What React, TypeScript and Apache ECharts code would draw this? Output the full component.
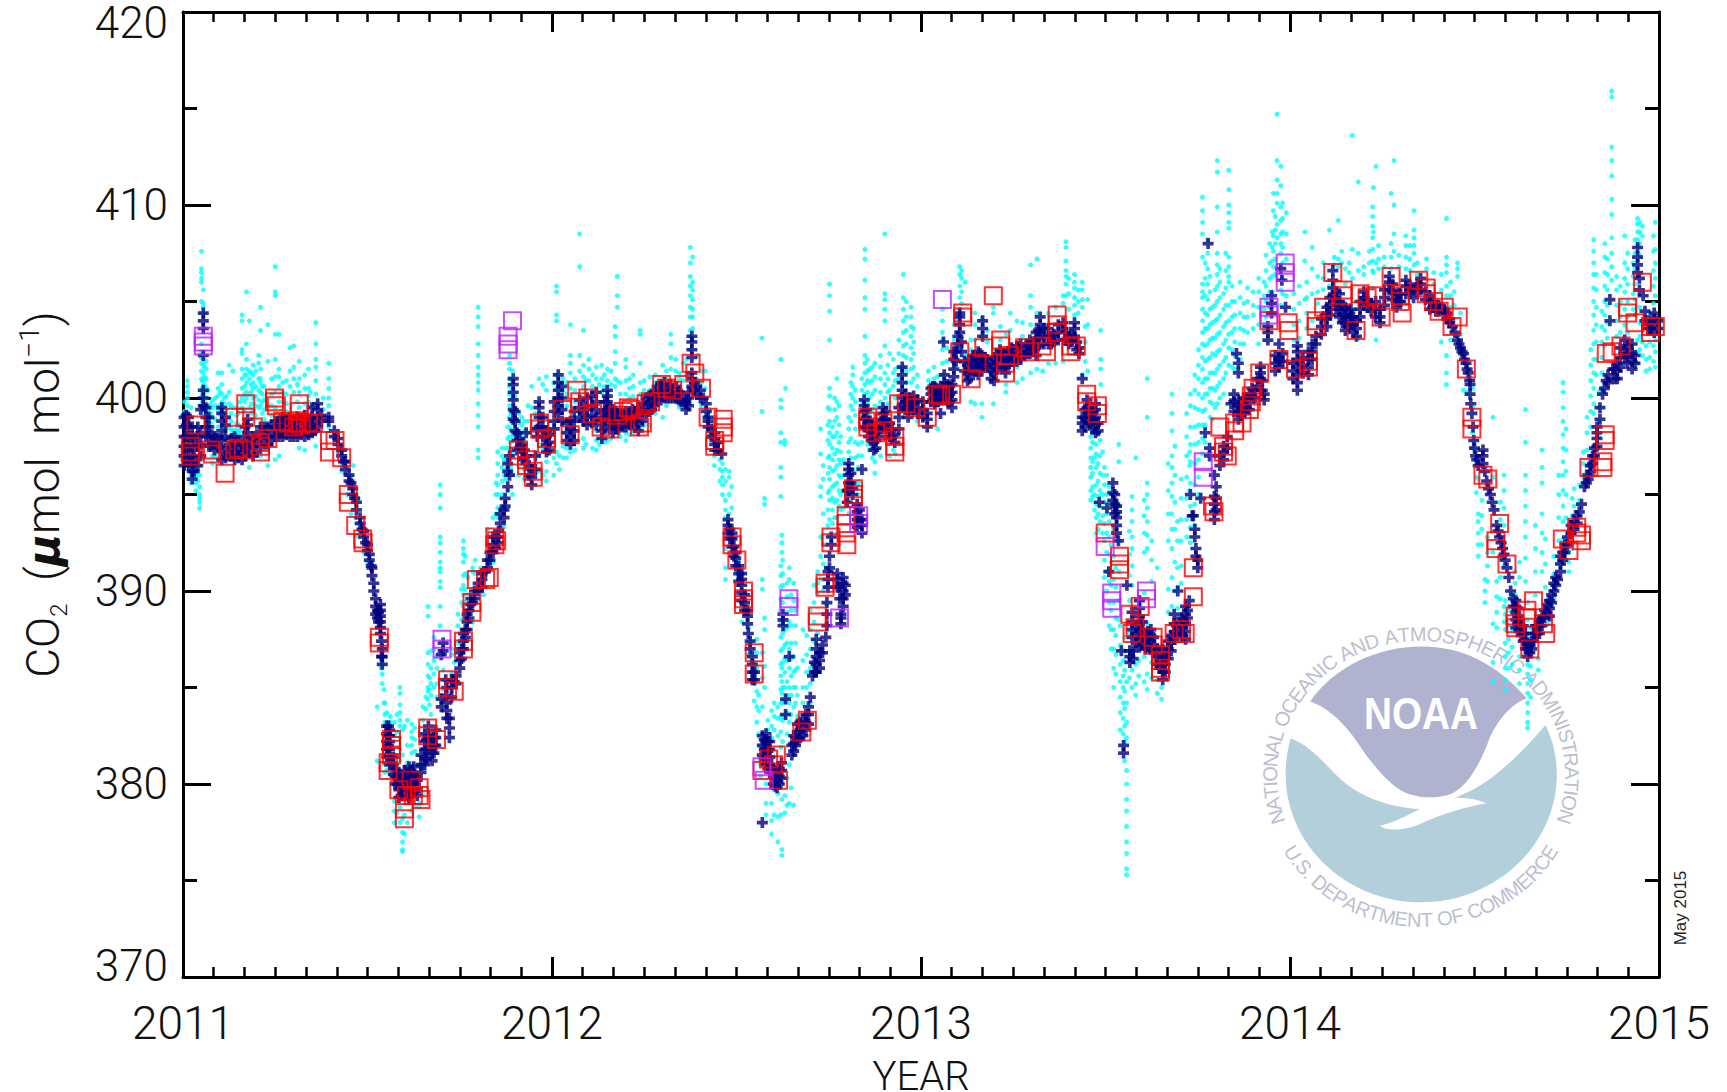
import React, { useEffect, useRef } from "react";
import * as echarts from "echarts";

const yearTicks = [2011, 2012, 2013, 2014, 2015];
const valueTicks = [370, 380, 390, 400, 410, 420];

// Each row: fraction of the year, then the values read at that time.
const cyan2011 = [
  [.004,396.5,397.5,398.5,399.3,399.8],[.012,398,399.2,399.6,400,400.3,400.6,400.9],[.022,395.6,396,396.6,397.2,398,399.5],
  [.035,395.2,395.6,396,396.5,397],[.045,394.3,394.6,394.8,395,395.4,396,396.5,397],
  [.05,401,401.4,401.8,402.1,402.4,402.8,405,406,406.2,406.5,406.7,407.6],[.055,400.6,400.9,401.3,401.7,402,402.4,404.4,404.7,404.9,405.6],
  [.063,399.5,400,400.5,401,401.5,401.9],[.08,396.6,397,399,399.5,399.9],[.095,396.8,398.5,399.4,400.1,400.5,401.3],[.105,399.8,400.2,400.7,401.3],
  [.125,398,398.5,399,399.7,400.3,401.7],[.135,397.5,398.3,399.5,401.4],[.155,397,398,398.3,399.8],[.16,399.5,400,400.5,401,401.5,402.3,402.5,404,404.3],
  [.172,400,400.3,400.8,401.2,401.5,402,402.8,405.5],[.18,396.4,397,399.5,400.2,401,401.4,404],[.19,399.4,400,400.5,400.8,401.2,401.7],
  [.205,399.5,399.9,400.4,401,401.8,402.2],[.21,397,399.6,400.3,400.8,401,401.5,403.5,404.7],[.23,396.5,399.6,401.9,403.8],[.25,396.8,399.5,400.3,401.1,402,403.3,405.3,405.5,406.8],
  [.26,397,399.8,400.6,401.1,401.5,403.3],[.29,400.6,401.4,402.6],[.3,400.3,401,401.6,402.7],[.315,397.4,399.5,400.3,401,401.9],[.33,397.3,399.7,400.5,401.2],
  [.34,399.8,400.1,400.5,401.5],[.36,397.5,399.7,400.2,400.9,401.6,402,402.8,403.9],[.395,398.5,399.6,400,400.5,401,401.8],
  [.42,397.2,397.6],[.445,395,396,396.4],[.455,394,395,396],[.462,395.5,396.5],[.475,392.8,393.5,394.8],[.49,392,393.2],[.5,391.5,392.1],
  [.537,386,386.5,386.9],[.54,385.2,385.7,386.2],[.545,384.2,384.9],[.526,384,381.2],[.547,384.2,383.6,383.2,382.5,381.5,381,380.6],
  [.552,383.7,383.2,382.8,382.4,381.9,381.5,381,380.7],[.562,383.5,383.2,382,381.2,380.9,380.5],[.573,379.9,379.1,378.6,378,382.5,383.2],
  [.588,385,384.7,384.1,383.7,383.3,383,382.4,381.8,381.2,378.8,378],[.595,377.5,377,376.5,376.6,382.8,381.5,378.2],[.6,383,378.4,377.4],
  [.62,383.1,382.7,382.4,382,381.6,381,378.6],[.64,378.8,378.3,379,380.6,381],[.65,384,383.3,380.8,379.5],
  [.664,389.2,388.7,386.8,386.2,385.6,385,384.4,384.8],[.672,386.9,386,385.2,384.6,383.6,382.2],[.68,387.6,387,386.4,385.7,385],[.697,392.5,391.5,391,390.2,389.2,388.2,395.5,395,394.3,392.8,392,391.2,390.5],
  [.705,385.9,385.4,384.9,384.3],[.728,387,386.7,385.7,384.9],[.745,388.8,388.2,387.3,386.5],[.76,392.6,392.2,391.9,391.5,390.8,390.3,389.8,389.2,388.6],
  [.765,391.8,390.9,390.1,389.4,388.4],[.785,389,388.4,391,391.2],[.8,404.7,404.2,403.7,402.8,402.2,401.6,401.2,400.8,400.4,399.7,399.1,398.5,397.3,396.9],
  [.815,389.8,390.4,391],[.825,391,391.6,392,392.4,393.2],[.84,391.5,392.2,393.8],[.848,392,394,395,395.6],[.853,393.8,394.3,395,395.5,396,396.6,397.2],
  [.865,394.3,395,395.7,396.4,397,397.4],[.875,394.6,395.8,396.3,396.8,397.4],[.885,396.2,396.8,397.4,398,399,399.6,400.2,400.6,401,401.5,401.8,402.2],
  [.893,395,396,397.2,398,398.7,399.4,400,400.4,400.9,401.4],[.91,396,397.4,398.2,398.7,399.2],[.925,395.8,396.3,397.8,398.3,398.8],[.945,395.6,396,398.4,399.5,400.6],[.965,396.2,397,397.6,398.2,401],
  [.985,395.7,396.2,396.7,397.2,400.4,401.1],
];
const cyanMore2011 = [
  [.008,397.2,398.2,399],[.018,396.2,397.8,398.7],[.03,395.9,396.3,397.6],[.04,395.7,396.2,396.8],[.052,399.4,399.8,400.2,400.5,400.9],[.058,399.2,399.6,400,400.3,400.7,401.1,401.6],[.068,398.3,398.8,399.4,400.4],
  [.075,397.4,398.7,399.2,399.7],[.088,397,398.9,399.6,400],[.1,396.9,397.6,399.2,399.6,400.3],[.112,398.6,399.2,399.7,400],[.118,397.9,398.4,399.4,400.1],[.13,398.4,398.8,399.2,399.6],[.145,398.1,398.4,398.7,399.1,399.5],
  [.15,397.2,398.2,398.6,399.2],[.167,399.4,399.8,400.2,400.6,401.2],[.185,399.2,399.7,400.3,400.7,401.3],[.197,399.1,399.6,400.1,400.6,401.4],[.215,399.2,399.8,400.2,400.6],[.22,398.9,399.4,399.9,400.6],[.24,399.1,399.6,400.2,401],
  [.27,399.4,399.8,400.3,400.8],[.28,399.3,399.7,400.2,400.9],[.31,399.2,399.8,400.7],[.345,399.6,400.3],[.38,399.4,400],[.43,396.5,396.2],[.468,394.5,393.8],[.56,381.8,382.8,383],[.58,383.6,382.7,379.4,378.5],[.608,383.3,382,381.1,378],
  [.628,382.9,382.3,381.7,378.9],[.658,384.5,383.9,382.8],[.668,385.5,384.9,384.1],[.688,386.6,386,385.2,384.5],[.735,386.3,385.5],[.755,390.1,389.4,388.5,387.8],[.772,390.7,389.8,389],[.792,391.6,390.9,390],[.806,390.6,391.2],[.833,391.4,392.1,392.8],
  [.87,393.3,396,396.8],[.88,395.2,396.7,397.9,398.5],[.888,396.4,397,397.7,398.4,399.2],[.9,398.2,398.9,399.5,400.1],[.918,396.6,398,398.6,399],[.935,395.9,398.2,398.8,399.6],[.955,396.1,398.3,399.2],[.975,396,397.4,398.9,400.7],
];
const cyan2012 = [
  [.012,396.6,397.2,399,399.6,400.5,401.2,404,404.3,405.5,405.8],[.03,396.9,397.5,398.2,400.4,401],[.05,397.2,397.7,400.5,401.3,401.8,402.2,403.8],[.075,401.4,402.2,408.5,406.8],
  [.085,397.4,397.9,400.6,401.1,401.7,403.5],[.1,400.9,401.5,402],[.12,397.3,397.8,398.3,401,401.6],[.135,397.9,400.3,401,401.7],[.15,397.8,398.4,400.9,401.5],
  [.171,403.7,403.2,402.4,401.8,401,400.6],[.177,406.3,405.3,404.7,400.9],[.2,397.8,398.2,400.2,400.9,401.6,402],[.22,398.2,400.1,400.6,401.2],[.239,403.5,403.3,401.8,400.8,400.2,398.4],
  [.265,398.6,400.4,401.1],[.3,399,401,401.7],[.322,403.3,402.8,402.1,401.5,400.9],[.335,399.8,401.4,402],[.355,399.6,400.9,401.8],
  [.375,402.5,403.2,403.5,404.2,404.7,405.3,405.8,406.3,407,407.8],[.381,403,403.6,404.2,404.6,405.1,405.6,406,407.3],[.395,400.1,400.9,402.2],[.415,399,400.5,401.4],
  [.44,396.5,397,399],[.462,396.6,396.2,395.9,395.5,395],[.47,396.3,395.7,394.7,394.2,393.8],[.48,396.2,395.9,395,394,393.4,392.8],[.47,392.2,391.2,390.6],[.495,392.8,392.2],
  [.515,391,390.5,389.2,388.4],[.532,388.8,388.1,387.3,386.7],[.555,387.5,386.8,386,384.8,384,383.2],[.569,403.1,399.3],[.576,394.8,394.5,388.6,388,386.1,385],[.57,390.6,390.1,386.8,385.5,384],
  [.565,382,381.5,381,380.4],[.58,381.5,380.7,380,379,378.4],[.595,383.8,383,382.4,381,380,379,378.1,377.4],[.612,384,383.4,382.5,380.5,379.5,378.3,377],
  [.62,402,399.9,399.5,398.2,397.7,396.4,395.9,394.9,391.3,390.8,390.2,389.6,389,388.4,387.6,386.9,386.2,385.6,384.9,384.2,383.5,382.7,381.9,381,378.4],
  [.623,392.9,392.5,392,386,385.3,384.7,380,379.2,376.3,376.6],[.631,397.8,397.6,388,387.2,386.5,385.8,385,384.3,383.5,379.4,378.5],[.633,400.5],[.643,391.2,390.6,388.4,387,386,385,384.2,383.2,381,379],
  [.655,390.4,389.5,386.6,385.8,385,384,378.9],[.665,386,384.6,383.5],[.68,388,386.4,385,384.2],[.7,389,388,387,386,385.2,384.2],[.72,391,390.4,389.9,387.8,386.8,385.8],
  [.728,398.4,397.1,395.4,394.9,392.8,391.8,390.6],[.743,392.4,391.2,390.2,389.3,388.3],[.752,405.9,405.3,404.5,403,400.5,400.1,399.4,398.8,398.2,397.6,397,396.4,395.8,395.2,394.7,393.7,392.9],
  [.76,398.5,398,397.4,396.8,396.2,395.4,394.8,394.2,393.5],[.772,401,399.8,399,398.2,397.3,396.5,395.6,394.7,393.8,393],[.782,398,397.2,396.6,395.9,395,394.2],
  [.804,397.7,397.2,396.6,399,398.4,394.7,394],[.815,401.6,401.2,400.6,400,399.4,396.3,395.5],[.83,397.6,397,396.4,395.6,395],[.848,407.7,407.2,406.1,405.2,404.6,403.2,402.2,401.8,401.3,400.7,400.2,399.7],
  [.86,401.5,400.8,400,399.2,397.3],[.875,401.8,401.1,400.4,399.6,396.7,396.1],[.902,408.5,405.4,405.1,404.6,404,402.7,401.3,400.7,400],[.915,402.3,400.4,397],
  [.93,401.5,400.9,400,397.1],[.952,406.4,405.2,404.6,404,403.4,402.7,402.2,401.6],[.973,404.7,404.2,403.7,403.2,402.6,402,401.5,400.8],[.99,401.2,400.6,398.8],
];
const cyanMore2012 = [
  [.005,396,396.9,398.4,399.9,400.8],[.02,396.3,397,399.5,400.1,400.7],[.04,396.9,397.4,399.6,400.2,400.8],[.062,397.3,399.8,400.4,401],[.092,397.6,400.4,400.9],[.11,397.4,400.6,401.2],[.128,397.6,400.7],[.142,397.7,400.6,401.2],
  [.16,397.9,400.7,401.4],[.185,398,400.2,400.8],[.21,398.1,400,400.5,401],[.25,398.6,400.4,400.9],[.28,399.2,400.8,401.2],[.31,399.6,401,401.4],[.345,399.5,401,401.3],[.365,399.6,401.2,402],[.405,399.6,400.8,401.4],
  [.428,398.1,399.4],[.455,396.8,396.3,395.7],[.487,395.4,394.3,393.3],[.505,391.5,390.8],[.54,387.4,386.4],[.548,386.3,385.2,384.3],[.56,384.6,383.8,382.6],[.585,383.3,382.8,381.9],[.602,384.2,383.5,382.8,381.4,379.7,378.4],
  [.625,391.6,390.9,390.3,389.4,388.7,387.8,387,386.3,385,384.2,383.3,382.2],[.637,390.4,389.7,388.9,388.1,387.3,386.4,385.3,384.6,383.7,382.6,380.3,378.9],[.648,389.8,389,388.2,387.3,386.5,385.6,384.6,383.6,379.8],[.66,389,388.2,387.3,385.9,385,384.2],
  [.69,387.7,386.7,385.8,385],[.71,390.3,389.4,388.4,387.4,386.3],[.735,396.5,395.8,394,392.4,391.4,390],[.748,399.5,398.6,397.8,396.9,396.1,395.1,394.2,393.4],[.766,400,399.4,398.8,398,397.1,396.3,395.5,394.6,393.8],[.778,399.6,398.6,397.7,396.8,396,395.2,394.4],[.79,396.8,396,395.2,394.3],
  [.81,400.8,400.2,399.6,398.8,397.9,396.9],[.822,400.4,399.8,399.1,398.4,397.7,396.9],[.84,401,400.4,399.8,399.2,397.7,397],[.855,402,401.4,400.9,400.3,399.7,397.6],[.868,401.6,400.9,400.2,399.4,396.9],[.89,402.2,401.6,401,400.3,399.8,397],
  [.91,401.7,401,400.3,399.7],[.925,402,401.3,400.6,397.3],[.94,403,402.3,401.6,401],[.96,405,404.2,403.5,402.8,402.1,401.4,400.8],[.98,403.6,402.9,402.3,401.6,401],
];
const cyan2013 = [
  [.02,401.4,400.9],[.058,404.6,404,403.4,403,402.5,401.8,401.2],[.045,398.4,401.1],[.09,401.6,402.2,403,403.8],[.105,406.4,405.8,405.2,404.6,406.8],[.11,406.6,406.2,405.5,404.9],[.12,402.2,401.9,406],[.146,404.4,403.8,403,402.4,399.7],
  [.165,399,399.7,404.1,403.2],[.196,404.7,404.4,399.7],[.23,400.3,400.7,403.3],[.242,404.4,403.5],[.26,400.8,401.6,404],[.297,406.9,405.3,404.7,403.8,401.3],[.314,407.2,404.4,401.5],[.345,401.8,403.8,404.4],
  [.385,404.9,405.3,401.9],[.393,408.1,407.8,407.1,406.6,406.3,405.9,405.3],[.416,406.4,406,405.7,405.2,404.8,404.3],[.437,406,405.6,405.1,404.7,401.2],[.452,405.1,403.8,401.4],[.487,403.5,402,401.5,400.7],
  [.46,399,398.6,398,397.4,396.9,396.4,395.9,395.2,394.7],[.475,398.2,397.6,397.1,396.4,395.5,394.5,393.8,393],[.485,397.8,397,396.1,395.2,394.4,393.6],[.497,396.4,395.5,394.6,393.5,392.6,391.6,390.7],
  [.51,395.4,394.6,393.6,392.8,391.9,390.5,389.4,388.2],[.536,397.6,396.7,394.4,392.6,391,389.5,388.5],[.522,393.2,391.8,390.6,389.4,388,387,386,385],[.548,386.4,385.6,385,384.2,383.4,382.6,381.8],[.557,380.7,380,379.2,378.6,377.8,377,376.4,375.6,375.3,385.3,384.2,383.2,382.4],
  [.572,394.9,394.2,393.6,392.8,392.2,391.3,390.3,388.6,385.9,385],[.582,396.9,386.2,385.2,384.6],[.613,401,399,395.6,395,394.3,393.6,392.9,392.2,388.3,387.4,385.7,384.9],[.64,386.2,385.4,384.7,391.2],
  [.652,385,384.4],[.68,400.2,399.2,398.3,397,396.4,395.6,394.9,394,393.2,392.2,390.7,389.2,388.3],[.695,393.6,392.6,391.2,390.2,389.1],[.73,400.2,399.6,398.5,397.6,396.7,395.6,394.4,393.3,392.5],[.728,397.2,396.5,395.2],
  [.763,410.4,409.7,409.1,408.5,407.3,405.9,405.5,405.2,404.6,404,403.4,402.8,402.1,401.5,400.8,400,399.3,398.6,397.9,397.1],[.777,408.2,407.5,406.7,405.9,405.1,404.3,403.6,402.8,402,401,400.2],
  [.79,404.7,403.9,403.1,402.3,401.3,400.5,399.7,398.9],[.803,412.3,411.7,409.9,408.6,407.5,406.9,406.4,405.8,405,404.1,403.3,402.4,401.5,400.6,399.7],[.82,405.4,404.6,403.7,402.8,401.9,401,400.2],
  [.834,411.8,410.8,410,409.6,409.1,408.8,407.3,406.8,406.3,406,404.8,404,403.3,402.6,401.7],[.85,405,404.3,403.6,402.9,402.2,401.5],[.875,404.9,404.2,403.5,402.8],[.9,405.5,404.8,404.3,403.6],
  [.93,406,405.3,404.6,403.8],[.945,408,407,406.2,405.5,404.7],[.955,409.7,410.6,408.4,407.6,406.8],[.965,414.7,412.3,411.3,410.6,410.1,409,408.3],[.975,412,411,409.9,409.2,408.5,408,407.5,405.6,404.8],[.99,409.6,408.5,407.2,405.3],
];
const cyanMore2013 = [
  [.035,401,401.6],[.07,401.9,402.6],[.098,402.6,403.4,404.1],[.135,403,402.5,399.8],[.18,402.9,403.5],[.215,403,403.7],[.275,403.2,403.9,401],[.33,403.6,401.4],[.365,404.7,401.8],[.4,406.2,405.4,404.6],[.426,405.6,405,404.4],
  [.445,403.7,402.9,401.9],[.465,398.3,397.7,396.7,396.1,395.4,394.9],[.47,399.4,398.8,396.9,395,394.2],[.48,398.9,396.6,395.7,394.9,394,393.2],[.492,397.2,396,395,393.9,393],[.503,396,395,394,393,392,391,390],[.515,392.4,391.5,390.3,389,388,387],
  [.528,391.2,390.2,388.6,387.7,386.7,385.7],[.54,388.2,387.2,386.2,385.3,384.5,383.7,382.8],[.552,387.6,386.9,385.9,384.8,383.9,383,382.2,381.2],[.565,393.1,391.9,390.8,389.5,387.8,386.5,385.5],[.59,387.6,386.4,385.6],[.605,394.7,393.9,393,392,389.9,386.6,385.3],
  [.625,392.6,391.6,390.5,386.3,385.5],[.67,396.6,395.2,394,392.6,390.1,388.9],[.688,397.5,396,394.6,393.2,391.5,390],[.705,395.8,394.8,393.7,392.6,391.3,390.4],[.72,399.2,398,397,395.9,394.8,393.7,392.8],[.742,401.2,400.4,399.5,398.5,397.6,396.6,395.5,394.5,393.4],
  [.752,402.5,401.7,401,400.2,399.4,398.6,397.7,396.8,395.9,395],[.77,407,406.2,405.3,404.4,403.6,402.7,401.9,401,400.2,399.4,398.6,397.7],[.783,406.3,405.5,404.6,403.8,403,402.1,401.3,400.5,399.8,399],[.797,405.6,404.8,404,403.1,402.2,401.3,400.4,399.5],
  [.81,406.7,406,405.2,404.3,403.4,402.5,401.7,400.8,400],[.826,407.5,406.6,405.7,404.8,403.9,403,402.1,401.3],[.843,405.8,405,404.2,403.4,402.5,401.6],[.865,406,405.2,404.4,403.6,402.8,402],[.885,405.7,405,404.2,403.4],
  [.915,406.2,405.5,404.7,403.8,402.8],[.935,407.4,406.6,405.8,405,404.2],[.952,408.6,407.8,407.1,406.3,405.5],[.96,409.4,408.7,408,407.2,406.4],[.98,410.1,409.3,408.6,407.8,407,406.2,405.4],
];
const cyan2014 = [
  [.04,408.6,407.1,405.1],[.06,407.8,406.7,405.4,404],[.107,408.7,405.8,404.2],[.131,409.2,407.2,406.8],[.15,406.7,405.9,404.4],[.169,413.6,407.7,406.2],[.185,411.2,407.5,406.6,403.1],
  [.224,409.9,409.4,408.9,408.3,407.7,407.1,406.6,405.7],[.233,412,407,403],[.226,410.9,408.6,406.5],[.274,410.6,408,407.3,406.7],[.282,412.3,410,408.5,407.6],[.314,408.4,407.9,407.3,406.7],
  [.336,409.7,408.7,408.3,407.9,407.5,406.9],[.37,407.2,406.7],[.424,409.3,407.3,406.9,406.5,405.8,405.3,404.5,402.2,401.3,400.7],[.454,407,406.7,406.3,403.2],[.47,401.8,400.4],
  [.495,400.5,399.5,398.2,397.4],[.51,394,393.6,393,392.4,391.8,395.8],[.528,390.6,390,389.4],[.55,388.3,386.3,385.3,399,395.9,392],[.58,396,395.2,394.3,393.4,392.5,391.3,389.2,388.4],
  [.583,389.5,388.8,388,387.3,386.6,386,385.4,384.9],[.61,391,390.4,389.8],[.638,399.4,397.7,396,395.2,394.4,393.6,392.8,391.7,390.5],[.644,389.4,388.5,387.6,386.2,385.7,385.2,384.7,384.2,383.7,383.2,382.9],
  [.683,397.3,396.4,395.6,394,393,392,391],[.7,389.6,388.3],[.74,400.8,400.3,399.5,398.8,398.1,397.4,396.7,396,395.2,394.4,393.6,392.7],[.755,392,391.5,391],[.77,395.3,394.4,393.4],
  [.795,397.2,396.6,396],[.823,408.2,407.6,407,406.4,405.7,405,404.3,403.5,402.8,402,401.3,400.5,399.7,399.2],[.837,400.3,399.5,398.8,398,397.4],[.853,408,407.3,406.5,405.8,405,404.3,403.5,402.7],[.872,415.9,415.6,413,412.3,411.5,410.3,409.5,408.3,407.5,406.8,406.1],
  [.885,406.3,405.6,404.8,404,403.2],[.907,408.4,407,406.2,405.5,404.6,403.8],[.93,407,406.3,405.4,404.6],[.942,409.3,409,408.6,408.2,407.9,403,402.4,401.8],[.965,402.7,402,401.4],[.99,409.1,407.7,407,406.2,405.3,403,402.4,401.6],
];
const cyanMore2014 = [
  [.01,405.4,404.6,403.8,403],[.025,405.8,404.9,404,403.1],[.045,406,405.2,404.4,403.6],[.075,406.3,405.5,404.9],[.09,407,406.2,405.6],[.12,407.3,406.9],[.14,407.6,407],[.16,407,406.5],[.2,406.8,406.4],[.215,407.6,407],[.24,407.9,407.2,406.7],
  [.255,407.3,406.8],[.295,407.4,406.8],[.325,407.9,407.2,406.6],[.345,407,406.4],[.39,406.5,405.9],[.41,406.4,405.6,402.9],[.435,406,405.3,404.7,403],[.445,405.5,404.8],[.462,404.4,403.3,402.5],[.48,401,400.3],[.505,396.7,395.9,395.1],
  [.52,394.7,393.9,393.2,392.4],[.535,392.8,392,391.3,390.5],[.56,390.5,389.7,388.9,388.1],[.57,394.6,393.7,392.8,391.7,390.7,389.6],[.592,389,388.2,387.5,386.8,386],[.602,389.8,388.9,388,387.1,386.2],[.622,391.5,390.7,386.6,385.9,385.2],[.652,388.1,386.9,386.1,385.4,384.5],
  [.665,393.4,392.2,391,389.8,388.9],[.673,386.5,385.9],[.692,392.7,391.4,390.2,389],[.715,391.8,390.9,390.2,389.6],[.728,396,395,393.8,392.6,391.5],[.748,398.4,397.3,396.2,395,393.8,392.7],[.765,394.8,393.9,393,392.2],[.785,395.5,394.7,393.8],
  [.805,399,398.2,397.3,396.5,395.7],[.815,402.5,401.7,400.9,400.1,399.3,398.5],[.83,406.4,405.6,404.7,403.8,402.9,402,401.2],[.845,404.5,403.7,402.9,402.1,401.3,400.5],[.86,407.2,406.4,405.6,404.8,403.9,403.1],[.895,405.8,405,404.2,403.4,402.6],[.915,407.5,406.7,405.9,405,404.2,403.4],
  [.935,408.2,407.5,406.7,405.9,405.1,404.3],[.948,409.1,408.6,408,407.4,404.7,403.9,403.2,402.5],[.955,408.9,408.4,402.9,402.2],[.975,404.4,403.6,402.9,402.1,401.5],[.985,408.4,407.6,406.6,405.8,404.9,402.7,401.9],
];

const navy2011 = [
  [.003,396.5,397,397.5,398,398.5,399],[.015,396.5,397,397.5,398,398.5,399],[.025,395.8,396.2,396.6,397,397.5,398,398.5],[.04,396.5,397.5,398,398.5],
  [.055,399.6,400,400.4,402.2,403.6,404,404.4],[.07,397.5,398,398.5,399],[.085,397.3,397.6,398],[.105,396.8,397.2,397.8,398.3,398.8,399.2,399.5],[.125,397,397.5],
  [.14,396.8,397.2,397.6,398],[.16,396.8,397.2,397.6],[.175,397.4,397.8,398.2,398.6,398.9],[.19,397,397.5,398],[.21,397.5,398,398.5],[.23,397.6,398,398.5],[.25,398,398.4,398.8],
  [.27,398,398.4,398.8,399],[.29,398,398.4,398.8,399],[.31,398,398.3,398.7,399],[.33,398,398.4,398.8,399.1],[.35,398.2,398.6,399,399.5],[.365,398.5,399,399.4,399.7],[.395,398.8,399],
  [.42,397.6,397.9],[.43,397,397.3],[.44,396.3,396.7],[.45,395.7,396],[.46,395,395.3],[.47,394.2,394.6],[.48,393.5,393.8],[.49,392.8,393.1],[.5,392.1,392.4],[.505,391.6,391.9],
  [.512,390.8,391.2],[.517,390,390.4],[.522,388.8,389.2,389.6],[.535,387.8,388.1,388.4,388.7,389,389.3],[.54,387,386.6,386.2],
  [.552,381.4,381.8,382.2,382.6,383],[.56,381,381.4,381.8,382.2,382.5,382.8],[.575,380,380.4,380.8],[.585,379.3,379.7,380.1,380.5],[.6,379.5,379.9,380.3,380.7],[.612,379.3,379.7,380.1,380.5,380.9],
  [.625,379.7,380.1,380.5,380.9],[.635,379.4,379.8,380.2],[.655,381,381.4,381.8,382.2,382.6],[.665,382.5,383],[.675,381.2,381.6,382,382.4],[.685,382,382.4,382.8],[.7,384,384.4,386.7],
  [.705,386.9,387.3],[.715,383.4,383.8,384.2,385],[.722,382.4,382.9,383.4],[.728,385,385.4,384.5],[.74,385.2,385.6],[.75,386.8,386.4,386],[.76,387,387.4,387.8],[.77,388,388.4,388.8],[.78,389.3,389.6],
  [.79,389.6,390],[.81,390.2,390.6,390.9],[.825,391.2,391.6],[.84,392,392.4,392.8],[.855,392.5,392.8,393.1],[.86,393.5,394],[.873,394.4,394.8],[.88,395.4,396.2,396.6],[.895,399.4,399.9,400.3,400.7,401,398.9],
  [.905,397.8,398.2,397.3],[.92,396.8,397.2,397.6],[.93,398.2,397],[.945,395.5,395.9,396.3],[.965,398.5,399,399.5,399.8],[.985,397.2,397.6,398,398.3],
];
const navyMore2011 = [
  [.009,396.8,397.4,398,398.6,399.1],[.03,396.2,396.8,397.3,397.9],[.048,397,397.6,398.2,399.4],[.062,399,399.5,398,398.5],[.078,397.6,398.1],[.095,397.5,397.9],[.115,396.9,397.4,398,398.6,399],[.132,397,397.4,397.9],[.15,396.9,397.3,397.8],
  [.168,397,397.5,398,398.5],[.183,397.2,397.7],[.2,397.2,397.7,398.1],[.22,397.6,398.1,398.5],[.24,397.8,398.2,398.6],[.26,398,398.4,398.8],[.28,398.1,398.5,398.9],[.3,398,398.4,398.8],[.32,398.1,398.5,398.9],[.34,398.1,398.5,398.9],[.358,398.3,398.7],
  [.375,398.8,399.1],[.41,398,398.3],[.435,396.7],[.455,395.6],[.465,394.8],[.485,393.2],[.495,392.5],[.51,391.3],[.527,389,388.6],[.53,388.4,388.9],[.538,386.6,387.4],[.557,381.5,382,382.5,383],[.57,380.5,381,381.4],[.58,380,380.4],
  [.592,379.4,379.8,380.3],[.606,379.4,379.8,380.2,380.6],[.618,379.5,379.9,380.3,380.7],[.63,379.6,380,380.4],[.645,380.6,381,381.5],[.66,381.3,381.8,382.3],[.68,381.6,382,382.4],[.712,384.6,385.4],[.735,385.3],[.755,386.5,387],[.765,387.6,388],
  [.775,388.6,389],[.785,389.4],[.8,390,390.4],[.82,391],[.832,391.6,392],[.848,392.2,392.8],[.87,393.8,394.2],[.885,396,397],[.9,398.3,398.8,399.3],[.912,397.4,397.9],[.925,396.9,397.3],[.938,396,396.5],[.955,396.3,397],[.96,398,398.4],[.975,398,398.5,399],[.992,397.3,397.7,398.1],
];
const navy2012 = [
  [.017,399.2,399.6,400,400.4,400.8,401.2],[.05,397.6,398,398.4,398.8],[.075,399,399.5,399.9],[.095,398.6,399,399.4,400],[.12,398.6,399,399.4,399.8,400.3],[.135,397.9,398.3,398.8,399.2],[.15,399,399.4,399.8,400.1,400.4],
  [.165,398.2,398.6,399,399.4],[.18,398.4,398.8,399.2],[.2,398.5,398.9,399.3],[.218,398.6,399,399.4],[.234,398.3,398.7,399.1,399.5],[.255,399.2,399.6,400],[.27,399.4,399.8,400.2],[.285,399.9,400.2,400.6],
  [.305,400,400.4,400.8],[.32,400,400.3,400.7],[.337,400,400.3,400.6],[.35,399.8,400.2],[.363,399.4,399.7,399.9],[.379,400.6,401,401.3,402.1,402.5,402.9,403.2],[.392,400.2,400.6],[.41,400],[.423,398.5,398.8,399],
  [.441,397.3,397.6,397.9,398.2],[.46,397.1],[.477,393,393.4,393.7],[.488,392.3,392.7,393],[.498,391.3,391.7,392],[.514,389.5,389.9,390.3,390.6,390.9],[.53,388.3,388.7,389],[.532,387.8],[.543,385.4,385.8,386.2,386.6],
  [.57,382.5,382,381.5],[.58,381,381.4,381.8,382.2,382.6],[.59,381,381.4,381.8,382.2],[.57,378],[.6,380,380.4,380.8],[.61,379.8,380.2,380.6],[.622,380.3,380.7,381.1],[.626,388.2,388.5,388.8],[.633,383.6,384.4],[.643,386.6],
  [.655,381.7,382.1,382.5],[.665,382.3,382.7,383.1],[.68,382.5,382.9,383.3],[.695,383.1,383.6,384],[.7,384.5],[.706,385.6],[.716,385.8,386.2,386.6,387,387.5],[.725,386,386.4,386.8],[.742,387.6],[.748,390.2,390.6,391],
  [.757,392.4,392.8],[.773,390.2,390.6,390.9],[.783,388.3,388.6,388.8],[.789,389.2,389.6,390,390.4,390.7],[.804,395.2,395.6,396,396.3,396.6],[.815,395,395.3],[.827,393.3,393.7,394.1,394.5],[.84,393,393.4,393.7,396.3],
  [.846,398.5,398.9,399.3,399.6,399.9],[.858,398,398.4,398.8],[.872,397.3,397.7,398.1,398.5],[.885,398,398.4],[.897,398.5,398.9,399.2,399.5],[.915,398,398.4,398.7],[.929,397.7,398.1],[.949,399.6,400,400.4,400.8,401.2,401.6],
  [.965,399,399.4,399.8],[.98,399.4,399.8,400.1],[.991,399.2,399.5,399.9],
];
const navyMore2012 = [
  [.006,398.4,398.8,399.3,399.8],[.027,398.8,399.4,400,400.6],[.04,397.8,398.2,398.7],[.06,397.8,398.3,398.8,399.3],[.085,398.8,399.2,399.7],[.108,398.7,399.1,399.6,400.1],[.143,398.4,398.9,399.3,399.8],[.158,398.6,399,399.5],
  [.173,398.4,398.9,399.3],[.19,398.5,398.9,399.2],[.21,398.6,399,399.3],[.225,398.5,398.9,399.3],[.245,398.8,399.3,399.7],[.263,399.3,399.7,400.1],[.278,399.6,400,400.3],[.295,399.9,400.3,400.7],[.313,400,400.4],[.328,400,400.3],[.344,399.9,400.3],[.37,399.6,400,400.3],
  [.386,400.4,400.8],[.402,400,400.4],[.418,399.3,399.7],[.432,398,398.4],[.45,397.3,397.7],[.482,392.7,393.2],[.493,391.8,392.3],[.506,390.5,390.9,391.3],[.522,389,389.4,389.8],[.537,387,387.4],[.549,385.4,385.8],
  [.575,381.3,381.8,382.3],[.585,380.8,381.2,381.7,382.2],[.605,379.9,380.3,380.7],[.616,380,380.4,380.8],[.65,381.5,382],[.66,382,382.4],[.672,382.4,382.8,383.2],[.688,382.8,383.2,383.6],[.711,385.8,386.3],[.733,386.8,387.2],[.745,388.2,388.8,389.4],
  [.752,391.2,391.8],[.78,389.6,390.2],[.795,389.8,390.3],[.8,394.6,395.2],[.81,395.6,396.1],[.833,393.7,394.2],[.852,398.5,399,399.4],[.865,397.8,398.2,398.6],[.878,397.4,397.8],[.892,398.4,398.8],[.905,398.4,398.9,399.3],[.922,398,398.4],[.94,398.4,399,399.5],[.957,399.4,399.8,400.2],[.972,399.4,399.7,400],
];
const navy2013 = [
  [.017,398.5,398.9,399.2],[.027,399.8,400.2,400.5],[.037,399.7,400,400.3,400.6],[.047,399.8,400.1,400.4],[.053,399.2],[.061,402.9],[.063,400,400.4,400.8,401.2],[.073,399.8,400.1,400.4,400.7],[.084,399.5,399.9,400.3,400.7],
  [.089,401.1,401.5,402,402.4],[.1,402.8,403.2],[.105,403.4,403.8,404.2,404.4],[.126,400.9,401.3,401.7],[.14,401.4,401.8,402.2],[.155,401.2,401.6,402,402.4],[.167,401.6,402,403.2,403.6,404],[.18,401.6,402],
  [.198,400.9,401.3,401.7,402.1],[.214,402.2,402.5],[.229,401.3,401.6,402,402.3],[.245,401.9,402.3,402.6],[.26,401.9,402.3,402.7],[.28,402.2,402.6],[.295,402.3,402.7,403],[.312,402.2,402.6,403,403.4],[.323,403.4,403.8,404.2],
  [.345,402.8,403.2,403.6],[.36,402.9,403.3],[.385,403.6,403.9],[.4,402.8,403.2],[.416,403.2,403.6,403.9],[.428,402.3,402.6],[.437,401,398.3,398.7,399],[.45,399.5,399.9],[.46,398.7,399,399.3],[.473,398.2,398.6,399,399.4,399.7],
  [.483,394.6],[.504,394.3],[.509,391],[.52,394.7,395.1,395.6],[.53,393,393.4,393.8,394.1,394.4],[.535,392.6],[.543,386.9],[.549,382,381.6],[.558,390.3],[.566,386.3,386.6,386.9],[.572,387.6,388,388.4,388.9],
  [.592,387.1,387.5,387.9,388.3,388.7,389.1,389.5],[.608,387,387.4,387.8],[.623,387,387.4,387.7,388],[.64,386.2,386.6,387],[.655,385.4,385.8,386.2,386.6,387],[.67,386.5,387,387.4],[.686,387.5,387.9,388.3,388.8],[.696,390],
  [.705,387.8,388.2,388.6],[.717,387.5,387.9,388.3,388.8,389.2],[.727,389.5],[.73,395],[.735,393.9],[.738,393.9],[.75,391.2,391.6],[.77,398.2],[.778,408],[.795,393.7,394.1,394.5,394.9,396],
  [.82,396.8,397.2,397.5],[.84,399.7],[.855,402.3],[.86,401.3,401.8,398.9,399.3,399.6,399.9],[.875,399.2,399.6,400],[.89,399.4,399.8,400.2],[.905,400,400.4],[.92,401,401.3,401.6],[.93,399.9,400.2],[.94,403,403.4,403.7],
  [.95,404.4,404.9,405.3],[.97,401.6,401.9,402.1,402.8],[.975,406.7],[.978,406.1],[.988,404.7],
];
const navyMore2013 = [
  [.005,399,399.4,399.8],[.032,399.9,400.3,400.6],[.042,399.8,400.2,400.5],[.057,399.9,400.2,400.6],[.068,399.9,400.3,400.6],[.078,399.8,400.2,400.6],[.095,401.9,402.4],[.11,402.4,402.9],[.118,401.4,401.9],[.132,401,401.5,402],[.148,401.4,401.8,402.2],[.16,401.4,401.9,402.3],[.174,401.7,402.1],
  [.19,401,401.4,401.8],[.205,401.5,401.9,402.2],[.222,401.6,402,402.3],[.237,401.7,402.1,402.4],[.252,402,402.4],[.27,402,402.4,402.8],[.288,402.3,402.7],[.303,402.5,402.9],[.318,402.7,403.1,403.5],[.333,402.8,403.2,403.6],[.353,402.8,403.2],[.372,403,403.4,403.8],[.392,403,403.4],[.408,402.9,403.3],[.422,402.5,402.9],
  [.444,398.5,399,399.4],[.455,398.8,399.2],[.467,398.4,398.9,399.3],[.48,398.3,398.7],[.525,394,394.5,395],[.575,386.5,386.9],[.583,387.3,387.7,388.1],[.6,387.2,387.6,388,388.4],[.615,387.1,387.5,387.9],[.63,386.8,387.2,387.6],[.647,386,386.4,386.8],[.662,385.8,386.2,386.6],[.678,386.9,387.3,387.7],[.692,387.8,388.2],
  [.71,387.7,388.1,388.5],[.722,388.6,389],[.742,392.8,393.2],[.745,391.8,392.2],[.758,394.8],[.782,397,397.4],[.8,394.2,394.8,395.4],[.81,396.5,397],[.83,397.4,398],[.848,399.3,399.8,400.2],[.868,399.1,399.5],[.882,399.5,400],[.897,400.1,400.5],[.912,400.6,401],[.925,400.4,400.9],[.96,401.4,401.8,402.2],[.98,401.9,402.3],
];
const navy2014 = [
  [.02,400.4,400.8,401.2,401.6,402,402.4,402.7],[.05,401.2,401.6,402,402.4],[.07,402.8,403.2],[.1,403.7,404.1,404.4,404.7],[.116,405.3,405.7,406.1,406.6],[.134,404.2,404.6,405,405.4],[.15,403.5,403.9,404.3,404.7],
  [.165,403.8,404.2,404.6],[.18,403.2,403.6,404],[.2,404.8,405.2,405.5],[.22,404.5,404.9],[.244,403.9,404.2,404.6],[.269,405.6,406,406.3],[.289,404.7,405.1,405.4],[.3,405,405.4],[.314,405.4,405.8,406.1],[.335,405.2,405.6],
  [.354,405.6,405.9,406.2],[.379,404.6,405,405.3],[.395,404.5,404.8],[.41,404.7],[.425,404.1,404.4],[.44,403.7],[.454,403],[.462,402.6],[.47,402.3],[.477,401.8],[.483,401.3],[.488,400.2,400.7],[.49,399.7],[.493,399.2],
  [.496,398.5],[.498,397.8],[.503,397],[.51,396.5],[.523,396.6,397,397.3],[.533,395.7],[.543,395],[.553,394.2],[.56,393.4],[.568,392.8],[.576,392.2],[.583,391.6],[.593,390.7],[.598,390],[.612,388.1,388.5,388.9,389.2,389.5],
  [.62,388,388.4],[.632,387.4,387.8,388.2],[.644,386.6,387,387.3],[.655,387,387.4],[.665,387.8,388.2],[.676,387.8,388.2,388.5],[.69,388.6,389],[.703,388.7,389.1,389.5],[.715,390,390.4],[.725,390.6],[.733,391,391.4,391.8],
  [.745,392,392.4],[.762,393,393.4],[.778,393.5,393.9],[.79,394.5],[.798,395.4],[.808,395.8,396],[.82,396.6,397],[.832,397.5,397.9,398.2,398.5],[.847,400.2],[.857,400.9],[.867,405.1,404],[.875,401.5],[.887,401,401.4,401.8],
  [.907,402.1,402.5,403],[.927,401.5,401.9,402.3,402.8],[.942,406.5,406.9,407.3,407.8],[.957,405.3],[.97,403.6,404],[.987,403.4,403.8,404.1,404.4],[.997,403.6,404],
];
const navyMore2014 = [
  [.008,401,401.4,401.8],[.035,401.3,401.7,402.1],[.06,402,402.4,402.8],[.085,403.3,403.7,404.1],[.108,404.3,404.8,405.2],[.125,404.6,405,405.5],[.142,403.9,404.3,404.8],[.158,403.7,404.1,404.5],[.172,403.4,403.8,404.2],[.19,404.2,404.6,405],
  [.21,404.7,405.1],[.232,404.2,404.6,405],[.256,404.8,405.2,405.6],[.278,405.1,405.5,405.9],[.296,405,405.4],[.325,405.4,405.8],[.345,405.5,405.9],[.367,405.1,405.5],[.387,404.7,405],[.403,404.5,404.8],[.418,404.4,404.6],[.433,403.9,404.1],[.447,403.4],[.458,402.8],
  [.466,402.4],[.473,402],[.48,401.5],[.487,400.9],[.5,397.4],[.506,396.8],[.528,396.2],[.538,395.3],[.548,394.6],[.564,393.1],[.572,392.5],[.58,391.9],[.588,391.2],[.605,389.2,389.6],[.616,388.3,388.7,389.1],[.626,387.7,388.1],[.638,387,387.4,387.8],[.65,386.8,387.2],
  [.66,387.4,387.8],[.67,387.8,388.2],[.683,388.2,388.6],[.697,388.9,389.3],[.709,389.4,389.8],[.72,390.3,390.7],[.739,391.6,392],[.752,392.4,392.8],[.77,393.2,393.6],[.784,394.1],[.803,395.6],[.814,396.2,396.5],[.825,397,397.4],[.84,398.9,399.5],[.852,400.5],[.862,400.8,401.2],
  [.88,401,401.5],[.895,401.6,402.1,402.6],[.915,401.8,402.3,402.7],[.935,401.8,402.2],[.947,405.6,406.2],[.962,404,404.5],[.978,403.6,404],
];

// Each pair: fraction of the year, value.
const red2011 = [
  [.035,398.6],[.02,397.2],[.021,397],[.075,397.3],[.08,397.1],[.114,396.1],[.14,399],[.17,399.7],[.17,399],[.19,398.5],[.14,397.3],[.15,397.4],[.163,397.3],[.21,397.2],[.21,397.7],[.23,397.9],[.248,400],[.248,399.8],[.27,398.8],[.285,398.7],
  [.315,399.7],[.315,399.3],[.31,398.7],[.34,398.7],[.353,398.7],[.397,397.8],[.397,397.2],[.412,397.8],[.43,396.9],[.448,395],[.448,394.6],[.468,393.4],[.487,392.7],[.488,392.5],[.532,387.6],[.532,387.3],[.565,382.3],[.565,381.8],[.556,381.1],[.556,380.7],
  [.585,379.7],[.6,378.2],[.6,378.7],[.618,380.2],[.64,379.4],[.64,379.8],[.624,379.4],[.663,382.9],[.663,382.5],[.687,382.3],[.717,385.4],[.717,385],[.735,384.8],[.76,387.4],[.76,387],[.783,388.9],[.783,389.4],[.795,390.6],[.82,390.6],[.83,390.7],
  [.845,392.8],[.845,392.4],[.85,392.6],[.909,397.3],[.931,396.8],[.949,396.2],[.966,398.7],[.967,398.4],[.985,397.9],
  [.02,397.5],[.21,397.5],[.253,399.6],[.3,398.5],[.32,398.6],[.565,382],[.565,381.5],[.605,379.4],[.645,379.2],[.909,397],[.931,396.5],[.949,395.9],[.985,397.6],
];
const red2012 = [
  [.028,399.4],[.049,398.1],[.067,400.4],[.075,399.8],[.097,400],[.11,399.2],[.133,398.5],[.157,398.4],[.178,399.1],[.193,399.3],[.214,399.4],[.237,398.5],[.255,399.7],[.267,399.8],[.297,400.7],[.31,400.5],[.327,400.4],[.357,400.7],
  [.377,401.8],[.387,401.3],[.405,400.5],[.423,399],[.464,398.9],[.464,398.2],[.441,397.8],[.441,397.5],[.488,392.8],[.488,392.4],[.501,391.6],[.519,390],[.519,389.6],[.548,386.8],[.548,385.7],[.587,381.3],[.608,381.5],[.569,380.7],[.614,380.2],
  [.6,381],[.677,382.7],[.692,383.3],[.719,388.7],[.719,388.4],[.74,390.4],[.74,390.2],[.756,392.8],[.756,392.5],[.797,393.9],[.799,392.4],[.817,395.3],[.817,394.8],[.856,399],[.856,398.5],[.877,398.2],[.897,398.7],[.897,398.3],[.929,398],[.929,397.5],
  [.939,399.7],[.96,399.7],[.986,399.5],
  [.464,398.5],[.519,389.3],[.797,393.5],[.797,393],[.817,395],[.856,398.8],[.929,397.2],[.207,399.5],[.245,398.7],
];
const red2013 = [
  [.017,399],[.045,400.2],[.053,400.1],[.083,400.2],[.113,404.4],[.113,404.2],[.105,402.4],[.136,401],[.152,401.8],[.17,402.6],[.196,405.3],[.216,403],[.216,402.7],[.229,401.8],[.229,401.3],[.24,402.2],[.281,402.6],[.295,402.4],[.328,402.7],[.34,402.4],
  [.369,404.3],[.369,403.4],[.406,402.7],[.406,402.4],[.421,402.7],[.449,400.2],[.449,399.8],[.478,399.6],[.478,399.2],[.499,393],[.538,391.8],[.538,391.4],[.594,389.2],[.566,388.8],[.572,387.8],[.58,388.1],[.629,387.6],[.629,387.2],[.649,386.4],[.649,386],
  [.686,387.8],[.706,388],[.716,387.8],[.738,391.2],[.738,389.7],[.794,394.1],[.79,394.4],[.81,398.5],[.82,397.5],[.83,397],[.85,398.7],[.87,398.7],[.89,399.4],[.895,400.1],[.9,400.5],[.918,401.3],[.943,404],[.97,402],[.995,403.9],[.997,403.5],
  [.538,391.1],[.649,386.7],[.649,385.8],[.369,403.8],[.82,397.2],[.85,398.3],[.895,399.8],
];
const red2014 = [
  [.015,401.5],[.05,401.9],[.071,404],[.091,404.7],[.116,406.5],[.144,405.6],[.19,405.4],[.179,403.5],[.209,405.2],[.231,405.3],[.247,404.2],[.274,406.3],[.299,405.3],[.304,404.4],[.349,406.1],[.369,405.7],[.389,405],[.404,404.5],[.418,404.7],[.439,403.7],
  [.456,404.2],[.478,401.5],[.493,399],[.493,398.4],[.523,396],[.536,395.8],[.568,393.5],[.558,392.6],[.558,392.2],[.588,391.4],[.61,388.7],[.612,388.1],[.642,389],[.66,389.5],[.65,387],[.693,387.8],[.687,388.3],[.738,392.7],[.756,392.1],
  [.777,393.3],[.79,392.9],[.81,396.4],[.848,396.7],[.854,398.1],[.857,402.3],[.873,402.4],[.897,402.7],[.915,404.7],[.935,403.9],[.955,406],[.977,403.7],[.99,403.7],
  [.05,401.6],[.071,403.7],[.144,405.3],[.299,405],[.369,405.4],[.61,388.3],[.642,388.6],[.777,393],[.79,392.6],[.848,396.4],[.854,397.8],[.977,403.4],[.915,404.4],
];
const purple2011 = [[.055,403.2],[.055,402.9],[.055,402.7],[.702,387.5],[.702,387],[.893,404],[.881,403.2],[.881,402.8],[.881,402.5]];
const purple2012 = [[.569,380.9],[.575,380.2],[.642,389.6],[.642,389.2],[.779,388.6],[.831,393.9],[.831,393.5]];
const purple2013 = [[.058,405.1],[.499,392.3],[.517,389.9],[.517,389.5],[.517,389.1],[.611,390],[.611,389.6],[.765,396.7],[.765,395.9],[.943,404.7],[.943,404.3],[.987,407],[.987,406.5],[.987,406]];

const logoTop = "M328 305 C370 320 420 355 470 430 C520 505 570 560 610 578 C650 596 720 600 760 575 C800 550 835 490 860 420 C880 370 920 315 972 295 C880 190 780 140 658 140 C530 140 400 200 328 305 Z";
const logoBottom = "M270 415 C330 440 360 480 410 530 C470 590 560 622 655 628 C620 645 580 668 535 678 C550 692 600 695 650 675 C720 640 790 622 852 610 C830 598 790 595 760 592 C850 565 950 470 1028 375 C1050 420 1062 470 1062 524 C1062 735 880 908 658 908 C436 908 255 735 255 524 C255 485 260 450 270 415 Z";
echarts.graphic.registerShape("noaaTop", echarts.graphic.extendPath(logoTop, {}));
echarts.graphic.registerShape("noaaBottom", echarts.graphic.extendPath(logoBottom, {}));

const plusSymbol = "path://M3 0h3v3h3v3h-3v3h-3v-3h-3v-3h3z";
const expand = (year: number, rows: number[][]) =>
  rows.flatMap(([t, ...vs]) => vs.map((v) => [year + t, v]));
const pairs = (year: number, rows: number[][]) => rows.map(([t, v]) => [year + t, v]);

function arcChars(text: string, cx: number, cy: number, rx: number, ry: number, from: number, to: number, lower: boolean) {
  const ctx = document.createElement("canvas").getContext("2d")!;
  ctx.font = "20px 'Liberation Sans'";
  const widths = [...text].map((c) => ctx.measureText(c).width);
  const total = widths.reduce((a, b) => a + b, 0);
  let run = 0;
  return [...text].map((c, i) => {
    const f = (run + widths[i] / 2) / total;
    run += widths[i];
    const a = ((from + (to - from) * f) * Math.PI) / 180;
    const x = cx + rx * Math.sin(a);
    const y = lower ? cy + ry * Math.cos(a) : cy - ry * Math.cos(a);
    return {
      type: "text", x, y, rotation: lower ? a : -a, silent: true,
      style: { text: c, fill: "#bcbed2", fontSize: 20, fontFamily: "Liberation Sans", align: "center", verticalAlign: "middle" },
    };
  });
}

export default function App() {
  const ref = useRef<HTMLDivElement>(null);
  useEffect(() => {
    const chart = echarts.init(ref.current!, null, { renderer: "svg" });
    const font = "Roboto";
    const axisBase = {
      type: "value", splitLine: { show: false },
      axisLine: { show: true, onZero: false, lineStyle: { color: "#000", width: 3 } },
    };
    const xAxisCommon = {
      ...axisBase, min: yearTicks[0], max: yearTicks[yearTicks.length - 1], interval: 1,
      axisTick: { show: true, inside: true, length: 20, lineStyle: { color: "#000", width: 3 } },
      minorTick: { show: true, splitNumber: 12, length: 10, lineStyle: { color: "#000", width: 2.5 } },
    };
    const yAxisCommon = {
      ...axisBase, min: valueTicks[0], max: valueTicks[valueTicks.length - 1], interval: 10,
      axisTick: { show: true, inside: true, length: 28, lineStyle: { color: "#000", width: 3 } },
      minorTick: { show: true, splitNumber: 2, length: 14, lineStyle: { color: "#000", width: 3 } },
    };
    chart.setOption({
      animation: false,
      backgroundColor: "#fff",
      grid: { left: 183, top: 12, width: 1476, height: 965, containLabel: false, outerBoundsMode: "none" },
      xAxis: [
        {
          ...xAxisCommon, position: "bottom",
          name: "YEAR", nameLocation: "middle", nameGap: 79,
          nameTextStyle: { fontFamily: font, fontWeight: 300, fontSize: 40, color: "#111" },
          axisLabel: { show: true, margin: 25, fontFamily: font, fontWeight: 300, fontSize: 46, lineHeight: 42, color: "#111", formatter: (v: number) => String(v) },
        },
        { ...xAxisCommon, position: "top", axisLabel: { show: false } },
      ],
      yAxis: [
        {
          ...yAxisCommon, position: "left",
          name: "{a|CO}{s|2}{a|  (}{m|μ}{a|mol  mol}{u|−1}{a|)}", nameLocation: "middle", nameGap: 112, nameRotate: 90,
          nameTextStyle: {
            color: "#111", fontFamily: font, fontWeight: 300, fontSize: 46,
            rich: {
              a: { fontFamily: font, fontWeight: 300, fontSize: 46, color: "#111", lineHeight: 56 },
              s: { fontFamily: font, fontWeight: 300, fontSize: 24, color: "#111", verticalAlign: "bottom", lineHeight: 44 },
              m: { fontFamily: "DejaVu Sans", fontStyle: "italic", fontWeight: "bold", fontSize: 44, color: "#111", lineHeight: 56 },
              u: { fontFamily: font, fontWeight: 300, fontSize: 28, color: "#111", verticalAlign: "top", lineHeight: 36 },
            },
          },
          axisLabel: {
            show: true, margin: 15, fontFamily: font, fontWeight: 300, fontSize: 44, lineHeight: 22, color: "#111",
            verticalAlignMinLabel: "bottom", verticalAlignMaxLabel: "top", formatter: (v: number) => String(v),
          },
        },
        { ...yAxisCommon, position: "right", axisLabel: { show: false } },
      ],
      graphic: {
        elements: [
          { type: "noaaTop", x: 1200, y: 600, scaleX: 1 / 2.975, scaleY: 1 / 3, silent: true, style: { fill: "#b0b3d0" } },
          { type: "noaaBottom", x: 1200, y: 600, scaleX: 1 / 2.975, scaleY: 1 / 3, silent: true, style: { fill: "#b3cfd9" } },
          { type: "text", x: 1421, y: 714, scaleX: 0.88, silent: true, style: { text: "NOAA", fill: "#fff", fontFamily: "Liberation Sans", fontWeight: "bold", fontSize: 44, align: "center", verticalAlign: "middle" } },
          ...arcChars("NATIONAL OCEANIC AND ATMOSPHERIC ADMINISTRATION", 1421, 775, 151, 141, -110, 110, false),
          ...arcChars("U.S. DEPARTMENT OF COMMERCE", 1421, 775, 152, 145, -60, 60, true),
          { type: "text", x: 1680, y: 908, rotation: Math.PI / 2, silent: true, style: { text: "May 2015", fill: "#222", fontFamily: "Liberation Sans", fontSize: 17, align: "center", verticalAlign: "middle" } },
        ],
      },
      series: [
        {
          name: "cyan", type: "scatter", z: 2, symbol: "circle", symbolSize: 5, itemStyle: { color: "#00ffff" },
          data: [...expand(2011, cyan2011), ...expand(2011, cyanMore2011), ...expand(2012, cyan2012), ...expand(2012, cyanMore2012), ...expand(2013, cyan2013), ...expand(2013, cyanMore2013), ...expand(2014, cyan2014), ...expand(2014, cyanMore2014)],
        },
        {
          name: "navy", type: "scatter", z: 3, symbol: plusSymbol, symbolSize: 11, itemStyle: { color: "#000080" },
          data: [...expand(2011, navy2011), ...expand(2011, navyMore2011), ...expand(2012, navy2012), ...expand(2012, navyMore2012), ...expand(2013, navy2013), ...expand(2013, navyMore2013), ...expand(2014, navy2014), ...expand(2014, navyMore2014)],
        },
        {
          name: "red", type: "scatter", z: 4, symbol: "rect", symbolSize: 17, itemStyle: { color: "transparent", borderColor: "#ff0000", borderWidth: 2 },
          data: [...pairs(2011, red2011), ...pairs(2012, red2012), ...pairs(2013, red2013), ...pairs(2014, red2014)],
        },
        {
          name: "purple", type: "scatter", z: 5, symbol: "rect", symbolSize: 17, itemStyle: { color: "transparent", borderColor: "#bb22ff", borderWidth: 2 },
          data: [...pairs(2011, purple2011), ...pairs(2012, purple2012), ...pairs(2013, purple2013)],
        },
      ],
    });
    return () => chart.dispose();
  }, []);
  return <div ref={ref} style={{ position: "fixed", left: 0, top: 0, width: 1727, height: 1092 }} />;
}
